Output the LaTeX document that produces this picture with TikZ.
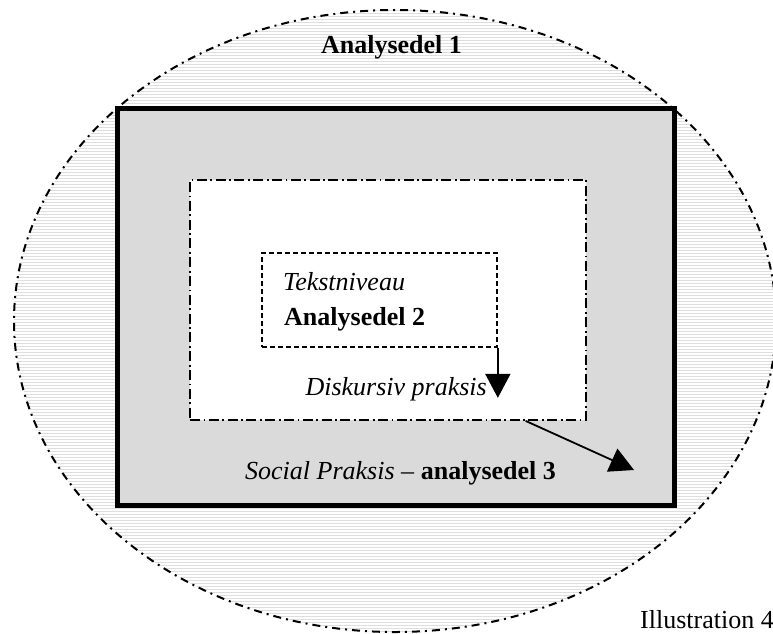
\documentclass[tikz,border=0pt]{standalone}
\usepackage{fontspec}
\setmainfont{Liberation Serif}
\usetikzlibrary{arrows.meta,calc}
\definecolor{panelgray}{RGB}{218,218,218}
\definecolor{hatchgray}{RGB}{222,222,222}
\tikzset{
  outerring/.style={line width=2pt, dash pattern=on 8pt off 5pt on 2pt off 5pt},
  socialbox/.style={draw, line width=5pt, fill=panelgray, minimum width=557pt, minimum height=397pt, inner sep=0pt},
  diskbox/.style={draw, line width=1.8pt, fill=white, dash pattern=on 10pt off 3.5pt on 1.8pt off 3.5pt, minimum width=396pt, minimum height=240pt, inner sep=0pt},
  tekstbox/.style={draw, line width=1.7pt, dash pattern=on 5pt off 3pt, minimum width=235pt, minimum height=94pt, inner sep=0pt},
  lbl/.style={inner sep=0pt, font=\fontsize{26}{30}\selectfont},
  bigtip/.style={-{Triangle[length=24pt,width=25pt]}, line width=1.8pt},
}
\begin{document}
\begin{tikzpicture}[x=1pt,y=-1pt]
\useasboundingbox (0,0) rectangle (773,633);
% outer ellipse with hatch
\begin{scope}
  \clip (395,321) ellipse [x radius=381, y radius=311];
  \foreach \yy in {10,13,...,634} {
    \draw[hatchgray, line width=0.9pt] (0,\yy) -- (800,\yy);
  }
\end{scope}
\draw[outerring] (395,321) ellipse [x radius=381, y radius=311];
% boxes
\node[socialbox] (social) at (395.5,306.5) {};
\node[diskbox] (disk) at (388,300) {};
\node[tekstbox] (tekst) at (379.5,300) {};
% texts
\node[lbl, font=\fontsize{26}{30}\selectfont\bfseries] (a1) at (391.5,47) {Analysedel 1};
\node[lbl, anchor=base west, font=\fontsize{26}{30}\selectfont\itshape] (tn) at (283,290) {Tekstniveau};
\node[lbl, anchor=base west, font=\fontsize{26}{30}\selectfont\bfseries] (a2) at (284,325) {Analysedel 2};
\node[lbl, anchor=base east, font=\fontsize{26}{30}\selectfont\itshape] (dp) at (487,395) {Diskursiv praksis};
\node[lbl, anchor=base west] (sp) at (245,479) {\textit{Social Praksis} -- \textbf{analysedel 3}};
\node[lbl, anchor=base west] (ill) at (640,628) {Illustration 4};
% arrows
\coordinate (t1) at ($(tekst.south east)+(0,50)$);
\coordinate (s2) at ($(disk.south west)!0.846!(disk.south east)$);
\coordinate (t2) at (634,470);
\draw[bigtip] (tekst.south east) -- (t1);
\draw[bigtip] (s2) -- (t2);
\end{tikzpicture}
\end{document}
